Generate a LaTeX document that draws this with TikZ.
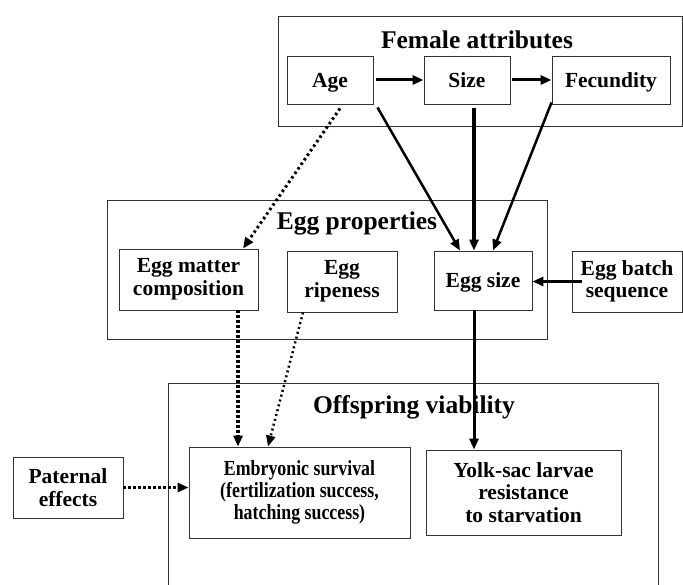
\documentclass[tikz,border=0pt]{standalone}
\usepackage{fontspec}
\setmainfont{Liberation Serif}
\newfontfamily\narrowserif[FakeStretch=0.83]{Liberation Serif}
\usetikzlibrary{positioning,arrows.meta,calc}
\definecolor{boxgray}{HTML}{333333}

\begin{document}
\begin{tikzpicture}[x=1pt,y=-1pt,
    attrbox/.style={draw=boxgray, line width=0.9pt, align=center, inner sep=2pt,
      font=\fontsize{21.5}{22.5}\selectfont\bfseries},
    oneline/.style={text height=14.5pt, text depth=0pt},
    grpbox/.style={draw=boxgray, line width=0.9pt, inner sep=0pt},
    grptitle/.style={font=\fontsize{25.5}{29}\selectfont\bfseries},
    solidarrow/.style={line width=3pt, -{Triangle[length=11pt,width=9pt]}},
    dotarrow/.style={line width=3.8pt, dash pattern=on 3pt off 2pt,
      -{Triangle[length=11pt,width=9pt]}}]
        \useasboundingbox (0,0) rectangle (683,585);
        % Female attributes
        \node[grpbox, minimum width=404pt, minimum height=110pt] (female) at (480,71) {};
        \node[grptitle] (femaletitle) at (477,40) {Female attributes};
        \node[attrbox, oneline, minimum width=86pt, minimum height=48pt] (age) at (330,80) {Age};
        \node[attrbox, oneline, minimum width=86pt, minimum height=48pt] (size) at (467,80) {Size};
        \node[attrbox, oneline, minimum width=118pt, minimum height=48pt] (fecundity) at (611,80) {Fecundity};
        % Egg properties
        \node[grpbox, minimum width=440pt, minimum height=139pt] (eggprop) at (327,269.5) {};
        \node[grptitle] (eggtitle) at (357,223) {Egg properties};
        \node[attrbox, minimum width=139pt, minimum height=61pt] (eggmatter)
          at (188.5,279.5) {Egg matter\\composition};
        \node[attrbox, minimum width=110pt, minimum height=61pt] (ripeness)
          at (342,281.5) {Egg\\ripeness};
        \node[attrbox, oneline, minimum width=98pt, minimum height=59pt] (eggsize)
          at (483,280.5) {Egg size};
        \node[attrbox, minimum width=110pt, minimum height=61pt] (batch)
          at (627,281.5) {Egg batch\\sequence};
        % Offspring viability
        \node[grpbox, minimum width=490pt, minimum height=207pt] (offspring) at (413,486.5) {};
        \node[grptitle] (offtitle) at (414,407) {Offspring viability};
        \node[attrbox, minimum width=221pt, minimum height=91pt,
          font=\fontsize{21.5}{22}\selectfont\narrowserif\bfseries] (embryo)
          at (299.5,492.5) {Embryonic survival\\(fertilization success,\\hatching success)};
        \node[attrbox, minimum width=195pt, minimum height=85pt] (yolk)
          at (523.5,492.5) {Yolk-sac larvae\\resistance\\to starvation};
        \node[attrbox, minimum width=110pt, minimum height=61pt] (paternal)
          at (68,487.5) {Paternal\\effects};
        % Solid arrows
        \draw[solidarrow] ([xshift=3pt]age.east) -- (size.west);
        \draw[solidarrow] ([xshift=2pt]size.east) -- (fecundity.west);
        \draw[solidarrow, line width=2.5pt] ([shift={(4,3)}]age.south east) -- ([xshift=-23pt]eggsize.north);
        \draw[solidarrow, line width=3.5pt] ([shift={(7,4)}]size.south) -- ([xshift=-9pt]eggsize.north);
        \draw[solidarrow, line width=2.5pt] ([yshift=2pt]fecundity.south west) -- ([xshift=10pt]eggsize.north);
        \draw[solidarrow] ([xshift=10pt]batch.west) -- (batch.west -| eggsize.east);
        \draw[solidarrow] ([xshift=-9pt]eggsize.south) -- ([xshift=-9pt]eggsize.south |- yolk.north);
        % Dotted arrows
        \draw[dotarrow, line width=3pt, dash pattern=on 2.5pt off 3pt]
          ([shift={(10,4)}]age.south) -- ([xshift=54.5pt]eggmatter.north);
        \draw[dotarrow] ([xshift=49.5pt]eggmatter.south) -- ([xshift=49.5pt]eggmatter.south |- embryo.north);
        \draw[dotarrow, line width=2.5pt, dash pattern=on 2pt off 3pt]
          ([xshift=-39pt]ripeness.south) -- ([xshift=-31.5pt]embryo.north);
        \draw[dotarrow] (paternal.east) -- (paternal.east -| embryo.west);
      \end{tikzpicture}
\end{document}
